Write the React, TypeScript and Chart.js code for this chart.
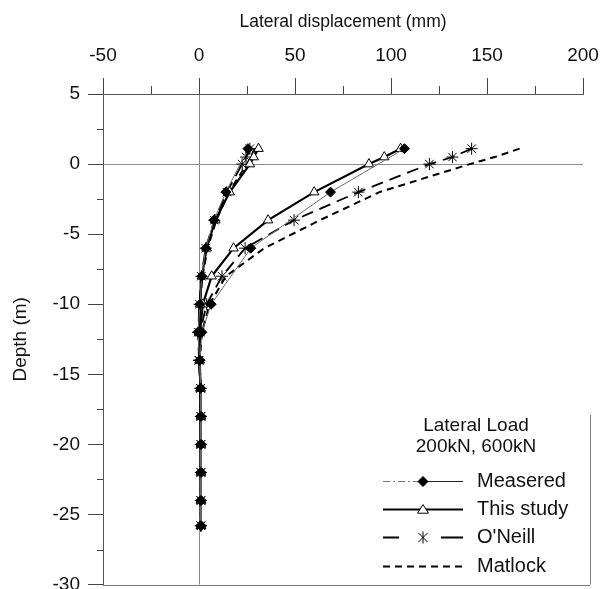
import React, { useEffect, useRef } from 'react';
import { Chart, registerables } from 'chart.js';

Chart.register(...registerables);

const FONT = '"Liberation Sans", Arial, Helvetica, sans-serif';

// ---- axis ticks ----
const xMinorTicks = [-25, 25, 75, 125, 175];
const yMinorTicks = [2.5, -2.5, -7.5, -12.5, -17.5, -22.5, -27.5];

// ---- legend text ----
const legendTitle = ['Lateral Load', '200kN, 600kN'];
const seriesNames = ['Measered', 'This study', "O'Neill", 'Matlock'];

// ---- data: depth (m) and lateral displacement (mm) ----
const measuredDepth200 = [1.1, -2, -4, -6, -8, -10, -12, -14, -16, -18, -20, -22, -24, -25.8];
const measuredDisp200 = [25.5, 14, 7.8, 3.5, 1.5, 0.5, -0.5, 0.3, 0.8, 1, 1, 1, 1, 1];
const measuredDepth600 = [1.1, -2, -6, -10, -12, -14, -16, -18, -20, -22, -24, -25.8];
const measuredDisp600 = [107, 68.5, 27, 6.3, 1.5, 0.5, 0.8, 1, 1, 1, 1, 1];

const modelDepth = [1.1, 0.5, 0, -2, -4, -6, -8, -10, -12, -14, -16, -18, -20, -22, -24, -25.8];
const thisStudy200 = [31, 28.5, 26.5, 16, 8.5, 4, 1.5, 0.5, 0, 0.3, 0.8, 1, 1, 1, 1, 1];
const thisStudy600 = [105, 96.5, 88.5, 60, 36, 18, 6.6, 2, 0.5, 0.3, 0.8, 1, 1, 1, 1, 1];
const oneill200 = [26.5, 24.5, 22.5, 14.5, 8, 3.5, 1.2, 0.3, -0.5, 0, 0.8, 1, 1, 1, 1, 1];
const oneill600 = [142, 132, 120, 83, 49.5, 24, 12, 4, 0.5, 0, 0.8, 1, 1, 1, 1, 1];
const matlock200 = [29, 27, 25, 15.5, 9, 4.5, 1.8, 0.5, 0, 0.3, 0.8, 1, 1, 1, 1, 1];
const matlock600 = [167, 154, 141, 94, 63, 34, 14, 5.5, 1.5, 0.5, 0.8, 1, 1, 1, 1, 1];

const pts = (xs: number[], ys: number[]) => xs.map((x, i) => ({ x, y: ys[i] }));

const measuredStyle = {
  borderColor: '#6a6a6a',
  borderWidth: 1,
  borderDash: [] as number[],
  pointStyle: 'rectRot',
  pointRadius: 5,
  pointBackgroundColor: '#000',
  pointBorderColor: '#000',
  pointBorderWidth: 1,
};
const thisStyle = {
  borderColor: '#000',
  borderWidth: 2.2,
  borderDash: [] as number[],
  pointStyle: 'triangle',
  pointRadius: 5.5,
  pointBackgroundColor: '#fff',
  pointBorderColor: '#000',
  pointBorderWidth: 1,
};
const oneillStyle = {
  borderColor: '#000',
  borderWidth: 1.8,
  borderDash: [12, 7],
  pointStyle: 'star',
  pointRadius: 6,
  pointBackgroundColor: '#000',
  pointBorderColor: '#000',
  pointBorderWidth: 1,
};
const matlockStyle = {
  borderColor: '#000',
  borderWidth: 2,
  borderDash: [7, 5],
  pointStyle: 'circle',
  pointRadius: 0,
  pointBackgroundColor: '#000',
  pointBorderColor: '#000',
  pointBorderWidth: 0,
};

function drawMarker(ctx: CanvasRenderingContext2D, style: string, x: number, y: number, r: number, fill: string) {
  ctx.save();
  ctx.setLineDash([]);
  ctx.strokeStyle = '#000';
  ctx.lineWidth = 1;
  ctx.fillStyle = fill;
  ctx.beginPath();
  if (style === 'rectRot') {
    ctx.moveTo(x, y - r);
    ctx.lineTo(x + r, y);
    ctx.lineTo(x, y + r);
    ctx.lineTo(x - r, y);
    ctx.closePath();
    ctx.fill();
    ctx.stroke();
  } else if (style === 'triangle') {
    const h = r * 1.5;
    ctx.moveTo(x, y - h * 0.6);
    ctx.lineTo(x + r, y + h * 0.45);
    ctx.lineTo(x - r, y + h * 0.45);
    ctx.closePath();
    ctx.fill();
    ctx.stroke();
  } else if (style === 'star') {
    const d = r * 0.75;
    ctx.moveTo(x - d, y - d); ctx.lineTo(x + d, y + d);
    ctx.moveTo(x + d, y - d); ctx.lineTo(x - d, y + d);
    ctx.moveTo(x, y - r); ctx.lineTo(x, y + r);
    ctx.stroke();
  }
  ctx.restore();
}

const decorPlugin = {
  id: 'decor',
  afterDraw(chart: any) {
    const { ctx, chartArea, scales } = chart;
    const xs = scales.x;
    const ys = scales.y;
    ctx.save();
    ctx.strokeStyle = '#444';
    ctx.lineWidth = 1;
    ctx.setLineDash([]);
    // minor ticks top axis
    xMinorTicks.forEach((v) => {
      const px = Math.round(xs.getPixelForValue(v)) + 0.5;
      ctx.beginPath();
      ctx.moveTo(px, chartArea.top);
      ctx.lineTo(px, chartArea.top - 8);
      ctx.stroke();
    });
    // minor ticks left axis
    yMinorTicks.forEach((v) => {
      const py = Math.round(ys.getPixelForValue(v)) + 0.5;
      ctx.beginPath();
      ctx.moveTo(chartArea.left, py);
      ctx.lineTo(chartArea.left - 6, py);
      ctx.stroke();
    });
    // legend box (right and bottom edges) and plot bottom line
    const boxRight = chartArea.right + 7;
    const boxTop = ys.getPixelForValue(-17.9);
    ctx.strokeStyle = '#777';
    ctx.beginPath();
    ctx.moveTo(chartArea.left, Math.round(chartArea.bottom) + 0.5);
    ctx.lineTo(boxRight, Math.round(chartArea.bottom) + 0.5);
    ctx.moveTo(Math.round(boxRight) + 0.5, boxTop);
    ctx.lineTo(Math.round(boxRight) + 0.5, chartArea.bottom);
    ctx.stroke();

    // legend content
    ctx.fillStyle = '#111';
    ctx.textBaseline = 'middle';
    ctx.font = `19px ${FONT}`;
    ctx.textAlign = 'center';
    const cx = chartArea.left + 373;
    const t0 = ys.getPixelForValue(-18.7);
    ctx.fillText(legendTitle[0], cx, t0);
    ctx.fillText(legendTitle[1], cx, t0 + 21);

    const styles = [measuredStyle, thisStyle, oneillStyle, matlockStyle];
    const lx0 = chartArea.left + 280;
    const lx1 = lx0 + 80;
    const mx = lx0 + 40;
    const firstY = ys.getPixelForValue(-22.6);
    ctx.font = `20px ${FONT}`;
    styles.forEach((s, i) => {
      const yy = Math.round(firstY + i * 28.3) + 0.5;
      ctx.save();
      if (i === 0) {
        ctx.strokeStyle = '#777';
        ctx.lineWidth = 1;
        ctx.setLineDash([7, 3, 2, 3]);
        ctx.beginPath();
        ctx.moveTo(lx0, yy);
        ctx.lineTo(mx, yy);
        ctx.stroke();
        ctx.setLineDash([]);
        ctx.strokeStyle = '#222';
        ctx.beginPath();
        ctx.moveTo(mx, yy);
        ctx.lineTo(lx1, yy);
        ctx.stroke();
      } else if (i === 2) {
        ctx.strokeStyle = '#000';
        ctx.lineWidth = s.borderWidth;
        ctx.beginPath();
        ctx.moveTo(lx0, yy);
        ctx.lineTo(lx0 + 16, yy);
        ctx.moveTo(lx1 - 22, yy);
        ctx.lineTo(lx1, yy);
        ctx.stroke();
      } else {
        ctx.strokeStyle = s.borderColor;
        ctx.lineWidth = s.borderWidth;
        ctx.setLineDash(s.borderDash);
        ctx.beginPath();
        ctx.moveTo(lx0, yy);
        ctx.lineTo(lx1, yy);
        ctx.stroke();
      }
      ctx.restore();
      if (s.pointRadius > 0) drawMarker(ctx, s.pointStyle, mx, yy, s.pointRadius, s.pointBackgroundColor);
      ctx.fillStyle = '#111';
      ctx.textAlign = 'left';
      ctx.fillText(seriesNames[i], lx1 + 14, yy);
    });
    ctx.restore();
  },
};

export default function App() {
  const ref = useRef<HTMLCanvasElement | null>(null);

  useEffect(() => {
    document.body.style.margin = '0';
    document.body.style.overflow = 'hidden';
    const canvas = ref.current;
    if (!canvas) return;

    const mk = (label: string, data: any[], style: any) => ({
      label,
      data,
      showLine: true,
      fill: false,
      tension: 0,
      ...style,
    });

    const chart = new Chart(canvas, {
      type: 'scatter',
      data: {
        datasets: [
          mk('Measered 200kN', pts(measuredDisp200, measuredDepth200), measuredStyle),
          mk('Measered 600kN', pts(measuredDisp600, measuredDepth600), measuredStyle),
          mk('This study 200kN', pts(thisStudy200, modelDepth), thisStyle),
          mk('This study 600kN', pts(thisStudy600, modelDepth), thisStyle),
          mk("O'Neill 200kN", pts(oneill200, modelDepth), oneillStyle),
          mk("O'Neill 600kN", pts(oneill600, modelDepth), oneillStyle),
          mk('Matlock 200kN', pts(matlock200, modelDepth), matlockStyle),
          mk('Matlock 600kN', pts(matlock600, modelDepth), matlockStyle),
        ],
      },
      options: {
        responsive: false,
        animation: false,
        layout: { padding: { top: 0, right: 32, bottom: 0, left: 0 } },
        plugins: {
          legend: { display: false },
          tooltip: { enabled: false },
        },
        scales: {
          x: {
            type: 'linear',
            position: 'top',
            min: -50,
            max: 200,
            afterFit: (s: any) => { s.height = 94; },
            ticks: {
              stepSize: 50,
              padding: 11,
              color: '#111',
              font: { family: FONT, size: 19 },
            },
            grid: {
              color: (c: any) => (c.tick && c.tick.value === 0 ? '#8c8c8c' : 'rgba(0,0,0,0)'),
              lineWidth: 1,
              tickColor: '#444',
              tickLength: 16,
              drawTicks: true,
            },
            border: { display: true, color: '#555', width: 1 },
            title: {
              display: true,
              text: 'Lateral displacement (mm)',
              color: '#111',
              font: { family: FONT, size: 17.5 },
              padding: { top: 12, bottom: 0 },
            },
          },
          y: {
            type: 'linear',
            position: 'left',
            min: -30,
            max: 5,
            afterFit: (s: any) => { s.width = 103; },
            ticks: {
              stepSize: 5,
              padding: 8,
              color: '#111',
              font: { family: FONT, size: 19 },
            },
            grid: {
              color: (c: any) => (c.tick && c.tick.value === 0 ? '#8c8c8c' : 'rgba(0,0,0,0)'),
              lineWidth: 1,
              tickColor: '#444',
              tickLength: 15,
              drawTicks: true,
            },
            border: { display: true, color: '#555', width: 1 },
            title: {
              display: true,
              text: 'Depth (m)',
              color: '#111',
              font: { family: FONT, size: 19 },
              padding: { top: 9, bottom: 0 },
            },
          },
        },
      },
      plugins: [decorPlugin],
    } as any);

    return () => chart.destroy();
  }, []);

  return (
    <div style={{ width: 615, height: 604, overflow: 'hidden' }}>
      <canvas ref={ref} width={615} height={604} style={{ display: 'block' }} />
    </div>
  );
}
